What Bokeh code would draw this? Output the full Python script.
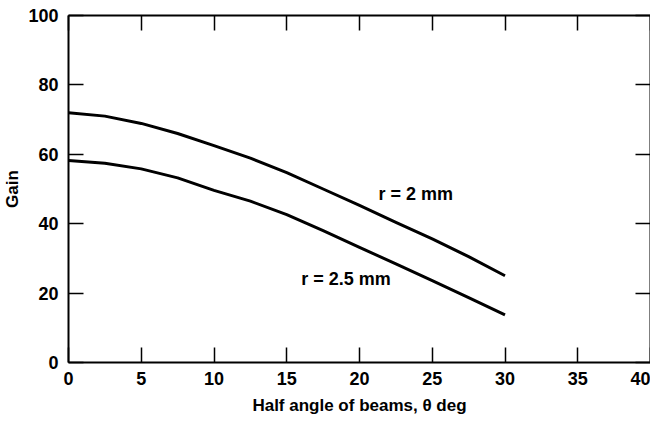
from bokeh.plotting import figure
from bokeh.models import Range1d, LinearAxis, FixedTicker, Label
from bokeh.embed import file_html
from bokeh.resources import INLINE

angle = [0, 2.5, 5, 7.5, 10, 12.5, 15, 17.5, 20, 22.5, 25, 27.5, 30]
gain_r2 = [72, 71.0, 68.9, 66.0, 62.5, 58.9, 54.7, 50.0, 45.3, 40.4, 35.6, 30.5, 25.0]
gain_r25 = [58.2, 57.4, 55.8, 53.2, 49.6, 46.5, 42.6, 38.0, 33.2, 28.4, 23.6, 18.7, 13.7]
x_ticks = [0, 5, 10, 15, 20, 25, 30, 35, 40]
y_ticks = [0, 20, 40, 60, 80, 100]
label_r2 = "r = 2 mm"
label_r25 = "r = 2.5 mm"

FONT = "Liberation Sans"

p = figure(frame_width=582, frame_height=347, output_backend="svg", toolbar_location=None,
           x_range=Range1d(0, 40), y_range=Range1d(0, 100),
           min_border_left=0, min_border_top=15, min_border_right=0, min_border_bottom=0,
           x_axis_label="Half angle of beams, \u03b8 deg", y_axis_label="Gain")
p.grid.visible = False
p.outline_line_color = None
p.background_fill_color = "white"
p.border_fill_color = "white"

for ax in p.xaxis:
    ax.ticker = FixedTicker(ticks=x_ticks)
for ax in p.yaxis:
    ax.ticker = FixedTicker(ticks=y_ticks)

for ax in list(p.xaxis) + list(p.yaxis):
    ax.major_tick_in = 15
    ax.major_tick_out = 0
    ax.minor_tick_line_color = None
    ax.axis_line_width = 2
    ax.major_tick_line_width = 1.5
    ax.axis_line_color = "black"
    ax.major_tick_line_color = "black"
    ax.major_label_text_font = FONT
    ax.major_label_text_font_style = "bold"
    ax.major_label_text_font_size = "18px"
    ax.major_label_text_color = "black"
    ax.axis_label_text_font = FONT
    ax.axis_label_text_font_style = "bold"
    ax.axis_label_text_font_size = "17px"
    ax.axis_label_text_color = "black"

p.xaxis.major_label_standoff = 9
p.yaxis.major_label_standoff = 10
p.xaxis.axis_label_standoff = 8
p.yaxis.axis_label_standoff = 3

top = LinearAxis(ticker=FixedTicker(ticks=x_ticks), major_label_text_font_size="0px",
                 major_label_standoff=0, major_tick_in=15, major_tick_out=0,
                 minor_tick_line_color=None, axis_line_width=2, major_tick_line_width=1.5,
                 major_label_text_color=None)
right = LinearAxis(ticker=FixedTicker(ticks=y_ticks), major_label_text_font_size="0px",
                   major_label_standoff=0, major_tick_in=15, major_tick_out=0,
                   minor_tick_line_color=None, axis_line_width=2, major_tick_line_width=1.5,
                   major_label_text_color=None)
p.add_layout(top, "above")
p.add_layout(right, "right")

p.line(angle, gain_r2, line_color="black", line_width=3, line_join="round")
p.line(angle, gain_r25, line_color="black", line_width=3, line_join="round")

p.add_layout(Label(x=21.3, y=48.7, text=label_r2, text_font=FONT, text_font_style="bold",
                   text_font_size="18px", text_baseline="middle", text_color="black"))
p.add_layout(Label(x=16.0, y=24.2, text=label_r25, text_font=FONT, text_font_style="bold",
                   text_font_size="18px", text_baseline="middle", text_color="black"))

open("out.html", "w").write(file_html(p, INLINE))
